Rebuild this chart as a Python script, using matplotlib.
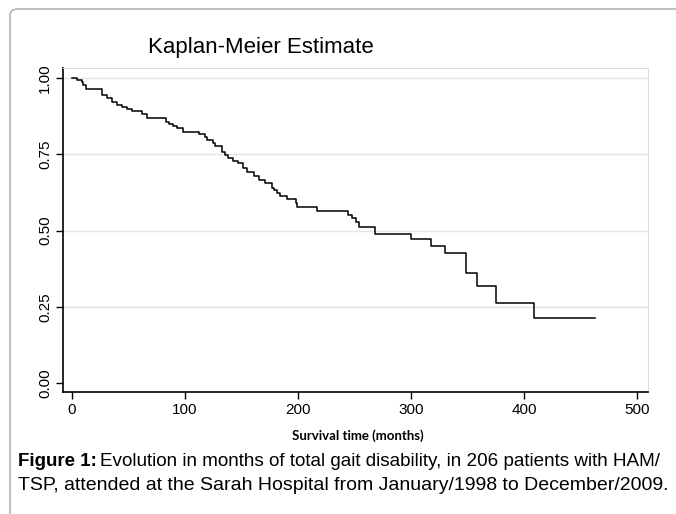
import matplotlib.pyplot as plt
from matplotlib.patches import FancyBboxPatch

plt.rcParams['font.family'] = ['Liberation Sans', 'DejaVu Sans']

# step change points
times = [0, 4.7, 8.6, 10, 12.4, 26.3, 30.7, 35, 39.5, 44, 48.4, 52.8, 61.7, 66.7,
         83, 86, 89, 92.6, 98, 112.7, 117.7, 119, 124.5, 126.5, 133, 135.4, 138.3,
         142.8, 147, 151.6, 154.6, 161.4, 165.8, 170.8, 176.7, 178.8, 181, 184, 190,
         198, 199, 217, 244.5, 247.5, 251.3, 254.3, 268, 299.7, 317.4, 330, 348.7,
         358.7, 375, 408.8]
survival = [1.0, 0.995, 0.988, 0.977, 0.964, 0.946, 0.933, 0.922, 0.913, 0.906, 0.898,
            0.892, 0.881, 0.869, 0.857, 0.85, 0.843, 0.835, 0.824, 0.816, 0.808, 0.797,
            0.788, 0.778, 0.758, 0.748, 0.737, 0.729, 0.722, 0.704, 0.693, 0.679, 0.666,
            0.655, 0.641, 0.633, 0.622, 0.613, 0.602, 0.589, 0.578, 0.565, 0.551, 0.54,
            0.529, 0.51, 0.49, 0.472, 0.449, 0.425, 0.362, 0.318, 0.263, 0.214]
end_time = 463

xticks = [0, 100, 200, 300, 400, 500]
yticks = [0, 0.25, 0.5, 0.75, 1.0]
ytick_labels = ["0.00", "0.25", "0.50", "0.75", "1.00"]

W, H = 676, 514
fig = plt.figure(figsize=(W / 100, H / 100), dpi=100)

# outer rounded frame
frame = FancyBboxPatch((10 / W, -0.2), 1.2, 1 - 9 / H + 0.2,
                       boxstyle="round,pad=0,rounding_size=0.012",
                       transform=fig.transFigure, fill=False,
                       edgecolor="#b4b4b4", linewidth=1.2)
fig.patches.append(frame)

ax = fig.add_axes([63 / W, 1 - 392 / H, (648 - 63) / W, (392 - 68) / H])
ax.step(times + [end_time], survival + [survival[-1]], where="post",
        color="black", linewidth=1.1)

ax.set_xlim(-8, 509.7)
ax.set_ylim(-0.0295, 1.033)
ax.set_xticks(xticks)
ax.set_yticks(yticks)
ax.set_yticklabels(ytick_labels, rotation=90, va="center")
ax.tick_params(direction="out", length=5, width=1, labelsize=11, pad=3)

for y in yticks[1:]:
    ax.axhline(y, color="#e3e3e3", linewidth=1.0, zorder=0)

ax.spines["left"].set_color("black")
ax.spines["bottom"].set_color("black")
ax.spines["left"].set_linewidth(1.2)
ax.spines["bottom"].set_linewidth(1.2)
ax.spines["top"].set_color("#dcdcdc")
ax.spines["right"].set_color("#dcdcdc")

fig.text(148 / W, 1 - 48 / H, "Kaplan-Meier Estimate", fontsize=16,
         ha="left", va="center")
fig.text(358 / W, 1 - 436 / H, "Survival time (months)", fontsize=9.5,
         fontweight="bold", ha="center", va="center", family=["Lato", "DejaVu Sans"])

# caption with bold lead-in
bold = fig.text(18 / W, 1 - 462 / H, "Figure 1:", fontsize=13.5,
                fontweight="bold", ha="left", va="center")
fig.canvas.draw()
bb = bold.get_window_extent(fig.canvas.get_renderer())
fig.text(bb.x1 / W + 3 / W, 1 - 462 / H,
         "Evolution in months of total gait disability, in 206 patients with HAM/",
         fontsize=13.6, ha="left", va="center")
fig.text(18 / W, 1 - 485 / H,
         "TSP, attended at the Sarah Hospital from January/1998 to December/2009.",
         fontsize=14, ha="left", va="center")

fig.savefig("out.png", dpi=100)
